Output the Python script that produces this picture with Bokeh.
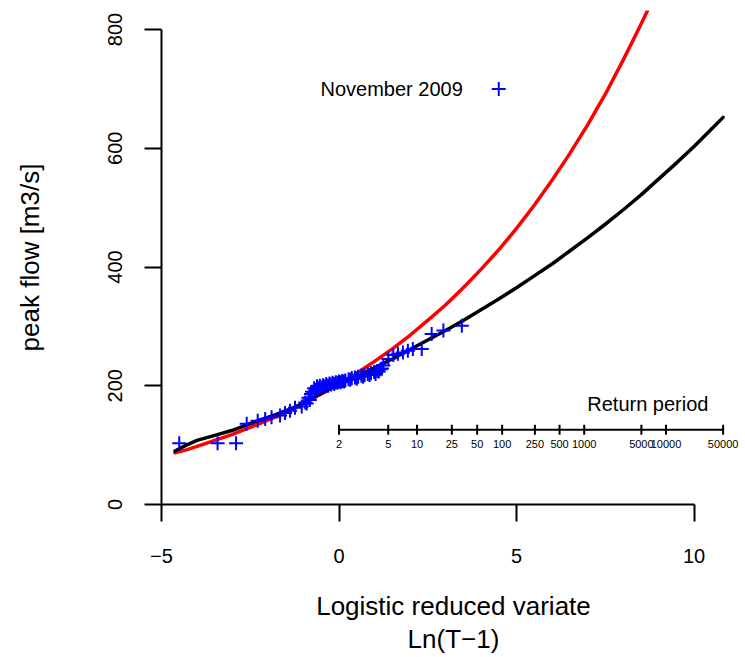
import numpy as np
from bokeh.plotting import figure
from bokeh.models import Range1d, FixedTicker, CustomJSTickFormatter
from bokeh.embed import file_html
from bokeh.resources import INLINE
from bokeh.core.properties import value

FONT = "Liberation Sans"

# Annual peak flows [m3/s] at their logistic reduced variate ln(T-1)
obs_variate = [-4.50, -3.42, -2.90, -2.60, -2.29, -2.08, -1.90, -1.66, -1.52, -1.38,
               -1.24, -1.05, -0.95, -0.91, -0.86, -0.82, -0.79, -0.76, -0.70, -0.66,
               -0.62, -0.58, -0.54, -0.49, -0.45, -0.40, -0.36, -0.31, -0.27, -0.22,
               -0.18, -0.13, -0.09, -0.04, 0.00, 0.05, 0.09, 0.14, 0.18, 0.27,
               0.32, 0.36, 0.45, 0.50, 0.54, 0.63, 0.68, 0.72, 0.81, 0.86,
               0.90, 0.99, 1.03, 1.08, 1.12, 1.17, 1.21, 1.25, 1.39, 1.53,
               1.66, 1.80, 1.94, 2.08, 2.33, 2.61, 2.94, 3.46]
obs_peak = [103, 103, 103, 136, 141, 144, 147, 150, 154, 158,
            163, 165, 172, 170, 180, 176, 186, 190, 196, 193,
            199, 196, 200, 197, 201, 199, 203, 200, 204, 202,
            205, 203, 206, 205, 207, 206, 208, 207, 209, 211,
            210, 213, 214, 212, 215, 217, 215, 218, 220, 218,
            221, 223, 220, 225, 224, 228, 229, 234, 245, 252,
            254, 256, 259, 262, 262, 287, 293, 301]

# Fitted quantile curve (black)
black_variate = [-4.62, -4.3, -4.0, -3.7, -3.4, -3.0, -2.6, -2.2, -1.8, -1.4,
                 -1.0, -0.6, -0.2, 0.2, 0.6, 1.0, 1.5, 2.0, 2.5, 3.0,
                 3.5, 4.0, 4.5, 5.0, 5.5, 6.0, 6.5, 7.0, 7.5, 8.0,
                 8.5, 9.0, 9.5, 10.0, 10.5, 10.82]
black_peak = [90, 100, 108, 113, 118, 125, 134, 143, 151, 160,
              171, 184, 197, 208, 218, 230, 245, 261, 277, 293,
              310, 328, 346, 365, 385, 405, 427, 449, 472, 496,
              521, 548, 575, 603, 633, 652]

# Fitted quantile curve (red)
red_variate = [-4.62, -4.3, -4.0, -3.5, -3.0, -2.5, -2.0, -1.5, -1.0, -0.5,
               0.0, 0.5, 1.0, 1.5, 2.0, 2.5, 3.0, 3.5, 4.0, 4.5,
               5.0, 5.5, 6.0, 6.5, 7.0, 7.5, 8.0, 8.5, 8.8]
red_peak = [87, 92, 98, 108, 118, 130, 142, 155, 170, 186,
            203, 221, 241, 262, 285, 310, 336, 365, 396, 429,
            465, 504, 546, 591, 639, 691, 748, 808, 846]

# Highlighted event
event_variate = [4.5]
event_peak = [700]
event_label = ["November 2009"]

# Return period scale
return_periods = [2, 5, 10, 25, 50, 100, 250, 500, 1000, 5000, 10000, 50000]
return_labels = [str(t) for t in return_periods]

x_ticks = [-5, 0, 5, 10]
y_ticks = [0, 200, 400, 600, 800]

p = figure(width=745, height=657,
           x_range=Range1d(-5, 11.45), y_range=Range1d(0, 832),
           output_backend="svg", toolbar_location=None,
           min_border_left=161, min_border_right=0,
           min_border_top=10, min_border_bottom=153)
p.outline_line_color = None
p.xgrid.grid_line_color = None
p.ygrid.grid_line_color = None
p.background_fill_color = "white"
p.border_fill_color = "white"

minus_fmt = CustomJSTickFormatter(
    code="return tick < 0 ? '\\u2212' + Math.abs(tick) : String(tick);")

for ax in (p.xaxis[0], p.yaxis[0]):
    ax.axis_line_width = 2
    ax.axis_line_color = "black"
    ax.major_tick_line_width = 2
    ax.major_tick_line_color = "black"
    ax.major_tick_in = 0
    ax.major_tick_out = 17
    ax.minor_tick_line_color = None
    ax.major_label_text_font = FONT
    ax.major_label_text_font_size = "20px"
    ax.major_label_text_color = "black"
    ax.axis_label_text_font = FONT
    ax.axis_label_text_font_size = "26px"
    ax.axis_label_text_font_style = "normal"
    ax.axis_label_text_color = "black"

xa = p.xaxis[0]
xa.ticker = FixedTicker(ticks=x_ticks)
xa.bounds = (x_ticks[0], x_ticks[-1])
xa.formatter = minus_fmt
xa.major_label_standoff = 27
xa.axis_label = "Logistic reduced variate\nLn(T\u22121)"
xa.axis_label_standoff = 25
xa.axis_label_text_line_height = 1.1

ya = p.yaxis[0]
ya.ticker = FixedTicker(ticks=y_ticks)
ya.bounds = (y_ticks[0], y_ticks[-1])
ya.major_label_orientation = "vertical"
ya.major_label_standoff = 23
ya.axis_label = "peak flow [m3/s]"
ya.axis_label_standoff = 60

line_kw = dict(line_width=3.5, line_cap="round", line_join="round")
p.line(red_variate, red_peak, line_color="#ff0000", **line_kw)
p.line(black_variate, black_peak, line_color="black", **line_kw)

p.scatter(obs_variate, obs_peak, marker="cross", size=14,
          line_color="#0000ff", line_width=2)

# Event marker with its label to the left
p.scatter(event_variate, event_peak, marker="cross", size=14,
          line_color="#0000ff", line_width=2)
p.text(event_variate, event_peak, text=event_label, x_offset=-36,
       text_align="right", text_baseline="middle",
       text_font=value(FONT), text_font_size="20px", text_color="black")

# Return period scale drawn inside the plot along ln(T-1)
rp_level = 126
rp_x = np.log(np.array(return_periods, dtype=float) - 1.0)
p.line([rp_x[0], rp_x[-1]], [rp_level, rp_level], line_color="black", line_width=2)
p.scatter(rp_x, [rp_level] * len(rp_x), marker="dash", angle=np.pi / 2,
          size=10, line_color="black", line_width=2)
p.text(rp_x, [rp_level] * len(rp_x), text=return_labels, y_offset=14,
       text_align="center", text_baseline="middle",
       text_font=value(FONT), text_font_size="11px", text_color="black")
p.text([8.7], [rp_level], text=["Return period"], y_offset=-26,
       text_align="center", text_baseline="middle",
       text_font=value(FONT), text_font_size="20px", text_color="black")

open("out.html", "w").write(file_html(p, INLINE))
